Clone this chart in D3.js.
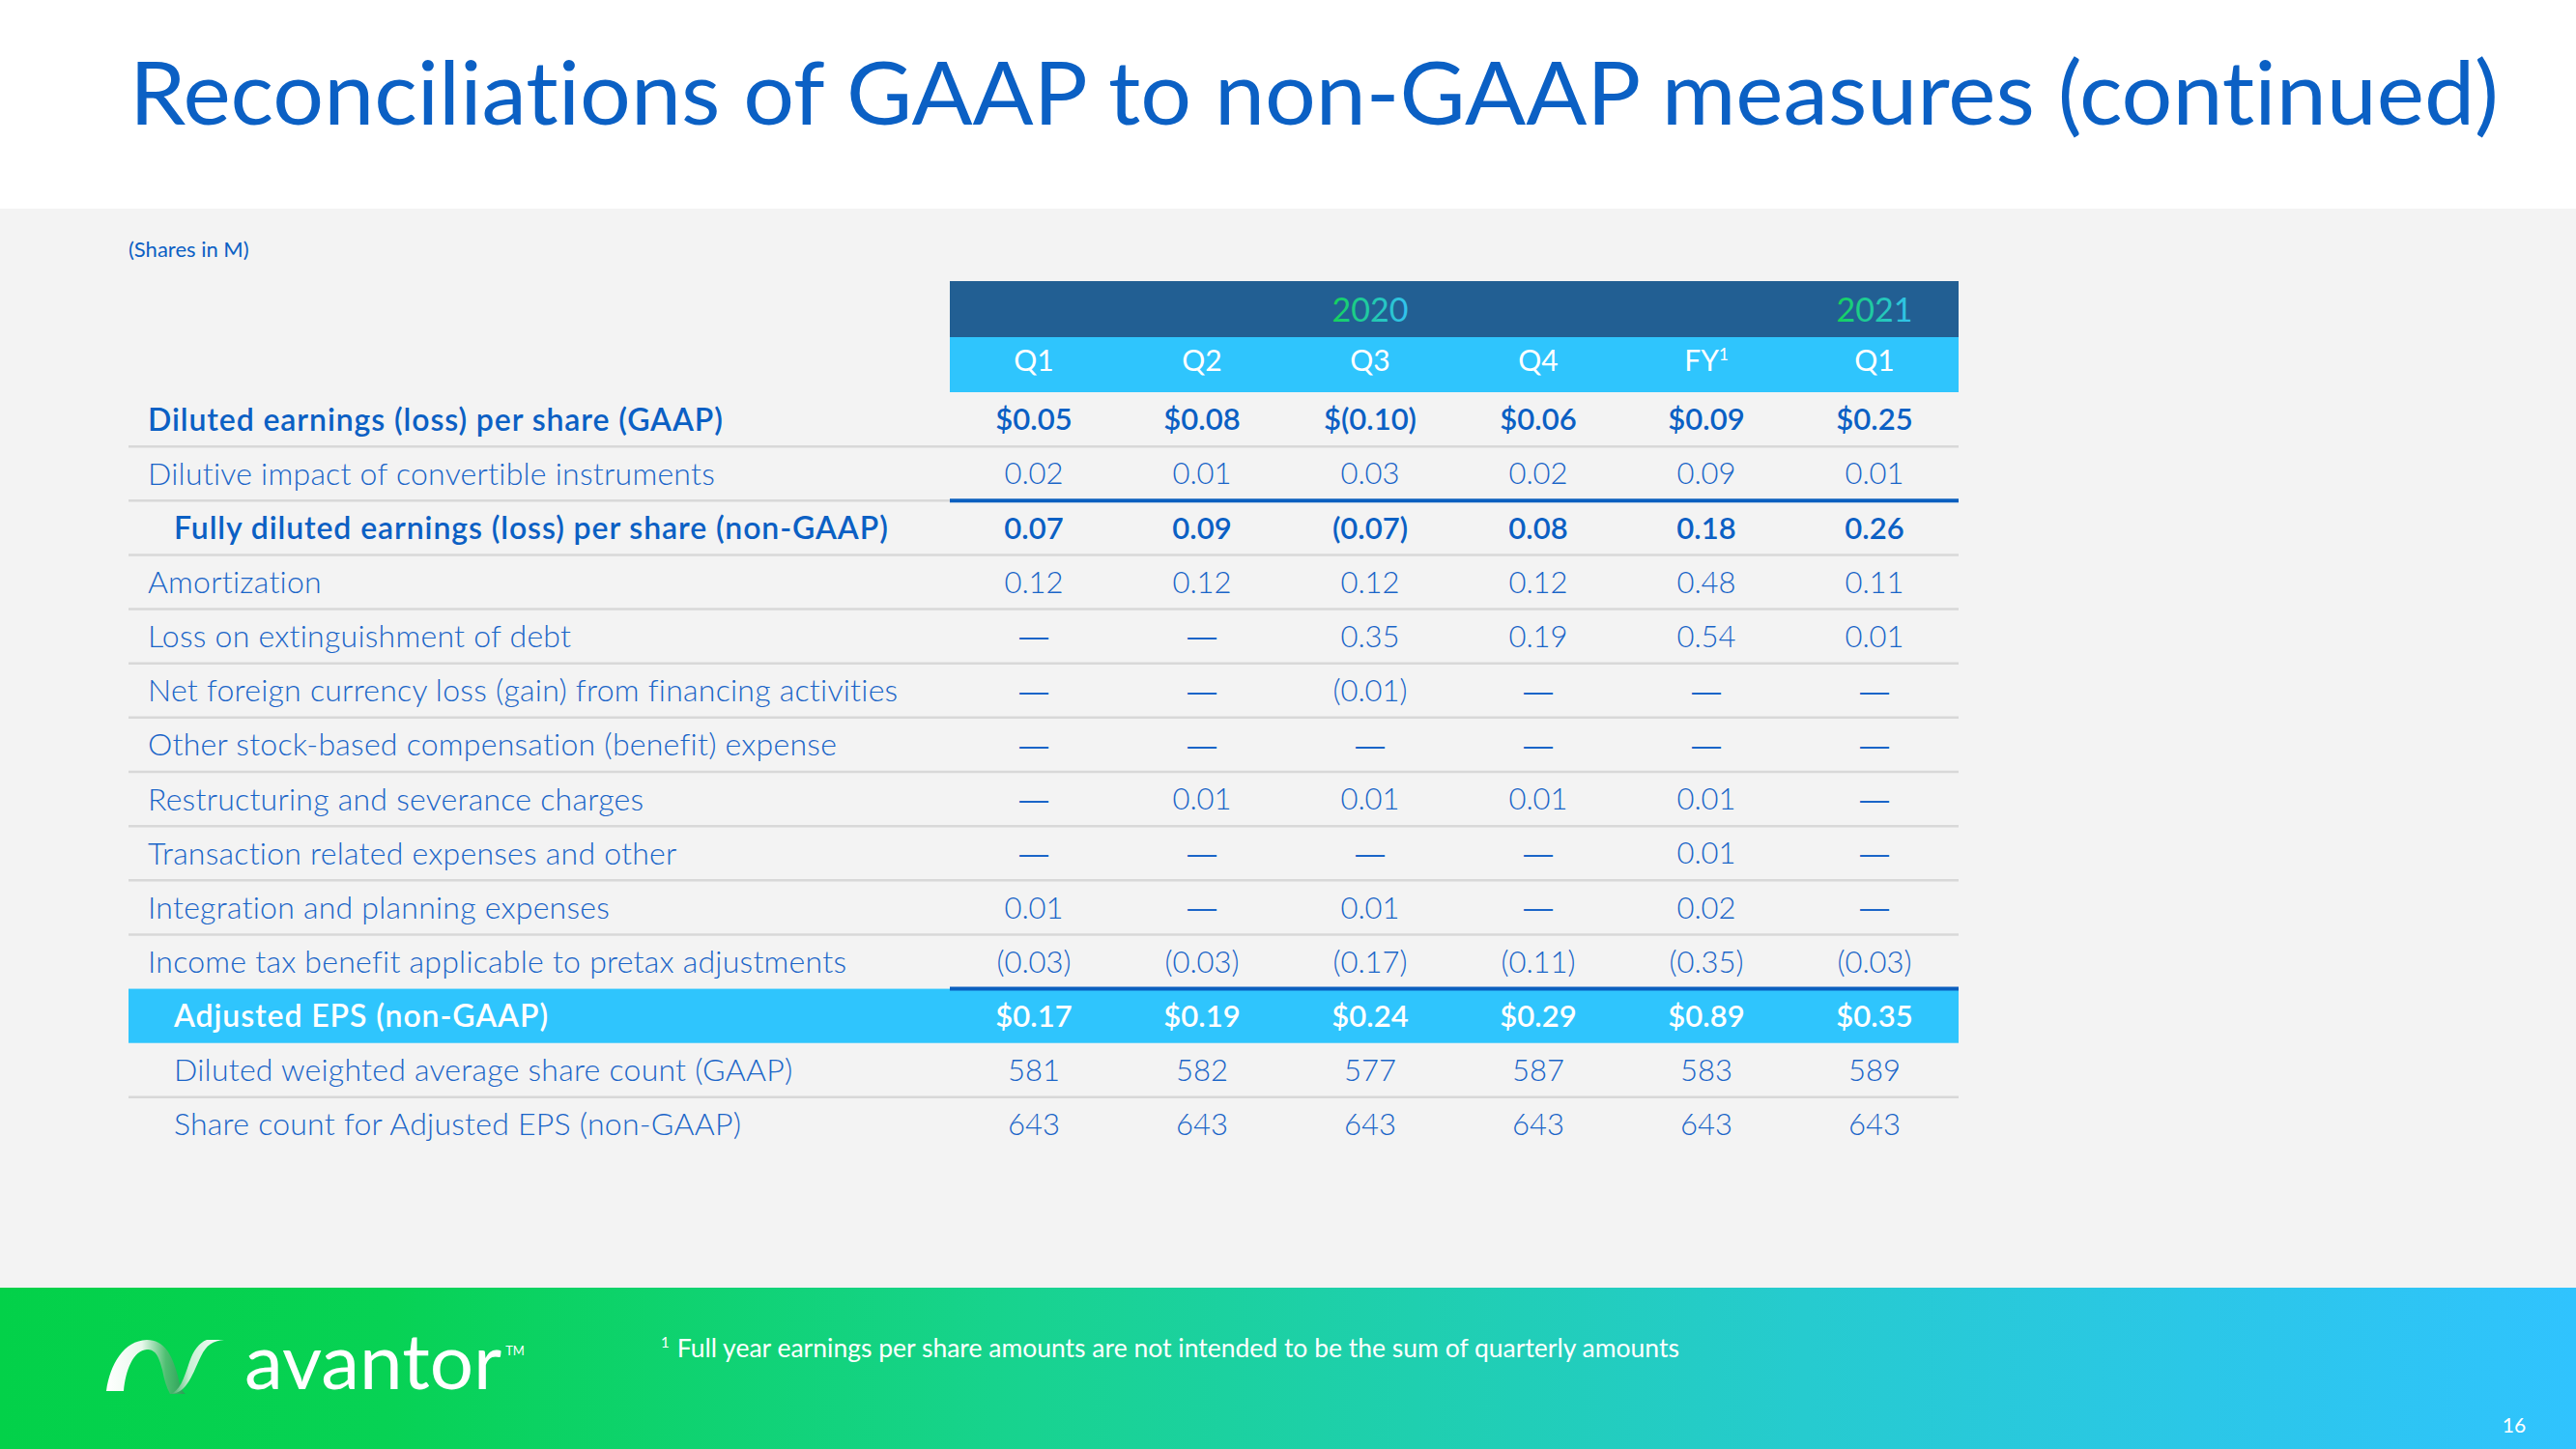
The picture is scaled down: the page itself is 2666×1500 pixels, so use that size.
<!DOCTYPE html>
<html><head><meta charset="utf-8">
<script src="https://cdn.jsdelivr.net/npm/d3@7"></script>
<style>html,body{margin:0;padding:0;background:#fff;overflow:hidden} svg{display:block} text{font-variant-ligatures:none;font-feature-settings:"liga" 0}</style>
</head><body><svg id="c" width="2666" height="1500"></svg>
<script>
// ---------- data ----------
const titleText = "Reconciliations of GAAP to non-GAAP measures (continued)";
const unitNote = "(Shares in M)";
const footnoteText = "Full year earnings per share amounts are not intended to be the sum of quarterly amounts";
const pageNumber = "16";
const yearLabels = ["2020", "2021"];
const columnKeys = ["2020-Q1", "2020-Q2", "2020-Q3", "2020-Q4", "2020-FY", "2021-Q1"];
const columnYears = ["2020", "2020", "2020", "2020", "2020", "2021"];
const columnLabels = ["Q1", "Q2", "Q3", "Q4", "FY", "Q1"];
const columnNotes = ["", "", "", "", "1", ""];

const rowLabels = [
  "Diluted earnings (loss) per share (GAAP)",
  "Dilutive impact of convertible instruments",
  "Fully diluted earnings (loss) per share (non-GAAP)",
  "Amortization",
  "Loss on extinguishment of debt",
  "Net foreign currency loss (gain) from financing activities",
  "Other stock-based compensation (benefit) expense",
  "Restructuring and severance charges",
  "Transaction related expenses and other",
  "Integration and planning expenses",
  "Income tax benefit applicable to pretax adjustments",
  "Adjusted EPS (non-GAAP)",
  "Diluted weighted average share count (GAAP)",
  "Share count for Adjusted EPS (non-GAAP)"
];
// row kind: total (GAAP start), item, subtotal, result, shares
const rowKinds = ["total", "item", "subtotal", "item", "item", "item", "item", "item", "item", "item", "item", "result", "shares", "shares"];
const rowUnits = ["usd", "num", "num", "num", "num", "num", "num", "num", "num", "num", "num", "usd", "int", "int"];

const dilutedEpsGaap      = [0.05, 0.08, -0.10, 0.06, 0.09, 0.25];
const dilutiveImpact      = [0.02, 0.01, 0.03, 0.02, 0.09, 0.01];
const fullyDilutedEps     = [0.07, 0.09, -0.07, 0.08, 0.18, 0.26];
const amortization        = [0.12, 0.12, 0.12, 0.12, 0.48, 0.11];
const lossOnDebt          = [null, null, 0.35, 0.19, 0.54, 0.01];
const netForeignCurrency  = [null, null, -0.01, null, null, null];
const otherStockComp      = [null, null, null, null, null, null];
const restructuring       = [null, 0.01, 0.01, 0.01, 0.01, null];
const transactionExpenses = [null, null, null, null, 0.01, null];
const integrationPlanning = [0.01, null, 0.01, null, 0.02, null];
const incomeTaxBenefit    = [-0.03, -0.03, -0.17, -0.11, -0.35, -0.03];
const adjustedEps         = [0.17, 0.19, 0.24, 0.29, 0.89, 0.35];
const dilutedShareCount   = [581, 582, 577, 587, 583, 589];
const adjustedShareCount  = [643, 643, 643, 643, 643, 643];

const rowValues = [dilutedEpsGaap, dilutiveImpact, fullyDilutedEps, amortization, lossOnDebt,
  netForeignCurrency, otherStockComp, restructuring, transactionExpenses, integrationPlanning,
  incomeTaxBenefit, adjustedEps, dilutedShareCount, adjustedShareCount];

const rows = rowLabels.map((label, i) => ({label, kind: rowKinds[i], unit: rowUnits[i], values: rowValues[i]}));

// ---------- styling ----------
const FONT = "Lato, 'Open Sans', sans-serif";
const BLUE = "#0b60c4";
const LIGHTBLUE = "#1a65c8";
const CYAN = "#2fc5fd";
const DARK = "#225f93";
const W = 2666, H = 1500;

function fmt(v, unit) {
  if (v === null || v === undefined) return "\u2014";
  if (unit === "int") return d3.format("d")(v);
  const s = d3.format(".2f")(Math.abs(v));
  const body = v < 0 ? "(" + s + ")" : s;
  return unit === "usd" ? "$" + body : body;
}

const svg = d3.select("#c").style("font-family", FONT);
const defs = svg.append("defs");
function grad(id, stops, vertical) {
  const g = defs.append("linearGradient").attr("id", id).attr("x1", "0%").attr("x2", vertical ? "0%" : "100%").attr("y1", "0%").attr("y2", vertical ? "100%" : "0%");
  stops.forEach(([o, c]) => g.append("stop").attr("offset", o).attr("stop-color", c));
}
grad("underline", [["0%", "#2bb95b"], ["100%", "#45c1d8"]]);
grad("footer", [["0%", "#03d149"], ["15%", "#07d254"], ["40%", "#18d390"], ["70%", "#26cbcf"], ["100%", "#30c3fe"]]);
grad("yearText", [["0%", "#14d25a"], ["55%", "#22c9b0"], ["100%", "#33c2f2"]]);
grad("ribbonA", [["0%", "#ffffff"], ["45%", "#e8f8ec"], ["75%", "#4fbf72"], ["100%", "#2a9d55"]]);
grad("ribbonB", [["0%", "#3aa860"], ["35%", "#c8efd4"], ["100%", "#ffffff"]]);

// backgrounds
svg.append("rect").attr("x", 0).attr("y", 0).attr("width", W).attr("height", 216).attr("fill", "#ffffff");
svg.append("rect").attr("x", 0).attr("y", 216).attr("width", W).attr("height", 1117).attr("fill", "#f3f3f3");
svg.append("rect").attr("x", 0).attr("y", 1333).attr("width", W).attr("height", 167).attr("fill", "url(#footer)");

// title
const title = svg.append("text").attr("x", 134).attr("y", 129)
  .attr("font-size", 92).attr("fill", BLUE).attr("font-weight", 400).text(titleText);
title.attr("textLength", 2452).attr("lengthAdjust", "spacingAndGlyphs");
svg.append("line").attr("x1", 133).attr("x2", 2533).attr("y1", 150).attr("y2", 150)
  .attr("stroke", "url(#underline)").attr("stroke-width", 3);

svg.append("text").attr("x", 133).attr("y", 266).attr("font-size", 22).attr("fill", BLUE).text(unitNote);

// ---------- table ----------
const tableLeft = 133, dataLeft = 983, dataRight = 2027;
const x = d3.scaleBand().domain(columnKeys).range([dataLeft, dataRight]);
const y = d3.scaleBand().domain(d3.range(rows.length)).range([406, 1192]);
const step = y.step();
const cx = k => x(k) + x.bandwidth() / 2;

// header bands
svg.append("rect").attr("x", dataLeft).attr("y", 291).attr("width", dataRight - dataLeft).attr("height", 58).attr("fill", DARK);
svg.append("rect").attr("x", dataLeft).attr("y", 349).attr("width", dataRight - dataLeft).attr("height", 57).attr("fill", CYAN);

// year labels centered over their column groups
svg.selectAll("text.year").data(yearLabels).join("text").attr("class", "year")
  .attr("x", yr => {
    const ks = columnKeys.filter((k, i) => columnYears[i] === yr);
    return (x(ks[0]) + x(ks[ks.length - 1]) + x.bandwidth()) / 2;
  })
  .attr("y", 333).attr("text-anchor", "middle").attr("font-size", 34).attr("font-weight", 400)
  .attr("fill", "url(#yearText)").text(d => d);

const qh = svg.selectAll("text.q").data(columnKeys).join("text").attr("class", "q")
  .attr("x", k => cx(k)).attr("y", 384).attr("text-anchor", "middle")
  .attr("font-size", 30).attr("fill", "#ffffff");
qh.append("tspan").text((k, i) => columnLabels[i]);
qh.append("tspan").attr("font-size", 17).attr("dy", -11).text((k, i) => columnNotes[i]);

// result band
rows.forEach((r, i) => {
  if (r.kind === "result") {
    svg.append("rect").attr("x", tableLeft).attr("y", y(i)).attr("width", dataRight - tableLeft)
      .attr("height", step).attr("fill", CYAN);
  }
});

// separators
const sep = svg.append("g");
rows.forEach((r, i) => {
  if (i === rows.length - 1) return;
  const next = rows[i + 1];
  const yy = y(i) + step;
  if (r.kind === "result") return;
  if (next.kind === "result") {
    sep.append("line").attr("x1", dataLeft).attr("x2", dataRight).attr("y1", yy).attr("y2", yy)
      .attr("stroke", "#0a5fbf").attr("stroke-width", 4);
    return;
  }
  if (next.kind === "subtotal") {
    sep.append("line").attr("x1", tableLeft).attr("x2", dataLeft).attr("y1", yy).attr("y2", yy)
      .attr("stroke", "#d8d8d8").attr("stroke-width", 2.5);
    sep.append("line").attr("x1", dataLeft).attr("x2", dataRight).attr("y1", yy).attr("y2", yy)
      .attr("stroke", "#0a5fbf").attr("stroke-width", 4);
    return;
  }
  sep.append("line").attr("x1", tableLeft).attr("x2", dataRight).attr("y1", yy).attr("y2", yy)
    .attr("stroke", "#d8d8d8").attr("stroke-width", 2.5);
});

// row labels + values
const indentKinds = new Set(["subtotal", "result", "shares"]);
const boldKinds = new Set(["total", "subtotal", "result"]);
const colorOf = d => d.kind === "result" ? "#ffffff" : (boldKinds.has(d.kind) ? BLUE : LIGHTBLUE);
const rowG = svg.selectAll("g.row").data(rows).join("g").attr("class", "row")
  .attr("transform", (d, i) => `translate(0,${y(i) + step / 2})`);
rowG.append("text")
  .attr("x", d => indentKinds.has(d.kind) ? 180 : 153)
  .attr("dy", "0.36em").attr("font-size", 32)
  .attr("letter-spacing", d => boldKinds.has(d.kind) ? 0.9 : 0.25)
  .attr("font-weight", d => boldKinds.has(d.kind) ? 600 : 300)
  .attr("fill", colorOf)
  .text(d => d.label);
rowG.each(function (d) {
  d3.select(this).selectAll("text.v").data(d.values.map((v, j) => ({v, k: columnKeys[j], d})))
    .join("text").attr("class", "v")
    .attr("x", e => cx(e.k)).attr("dy", "0.36em").attr("text-anchor", "middle")
    .attr("font-size", e => e.v === null ? 30 : 31)
    .style("font-family", e => e.v === null ? "'Liberation Sans', sans-serif" : null)
    .attr("font-weight", e => e.v === null ? 400 : (boldKinds.has(e.d.kind) ? 600 : 300))
    .attr("fill", e => colorOf(e.d))
    .text(e => fmt(e.v, e.d.unit));
});

// ---------- footer ----------
const logo = svg.append("g");
// left arch ribbon
logo.append("path")
  .attr("d", "M110,1440 C114,1412 128,1388 152,1387 C170,1387 178,1402 184,1424 C186,1434 188,1440 192,1443 L176,1443 C172,1436 170,1428 168,1418 C164,1402 160,1397 152,1397 C138,1398 130,1418 128,1440 Z")
  .attr("fill", "url(#ribbonA)");
// right slash ribbon
logo.append("path")
  .attr("d", "M176,1443 C194,1443 200,1420 208,1404 C214,1392 220,1388 232,1387 L214,1387 C206,1390 200,1398 196,1410 C190,1428 186,1440 176,1443 Z")
  .attr("fill", "url(#ribbonB)");
const wm = logo.append("text").attr("x", 253).attr("y", 1438).attr("font-size", 80)
  .attr("fill", "#ffffff").attr("font-weight", 400).text("avantor");
const wmEnd = 253 + wm.node().getComputedTextLength();
logo.append("text").attr("x", wmEnd + 4).attr("y", 1403).attr("font-size", 13).attr("fill", "#ffffff").text("TM");

const fn = svg.append("text").attr("x", 684).attr("y", 1405).attr("font-size", 26.5).attr("fill", "#ffffff").attr("font-weight", 400);
fn.append("tspan").attr("font-size", 15).attr("dy", -10).text("1");
fn.append("tspan").attr("dy", 10).attr("dx", 8).text(footnoteText);

svg.append("text").attr("x", 2602).attr("y", 1483).attr("text-anchor", "middle").attr("font-size", 21)
  .attr("fill", "#ffffff").text(pageNumber);
</script></body></html>
